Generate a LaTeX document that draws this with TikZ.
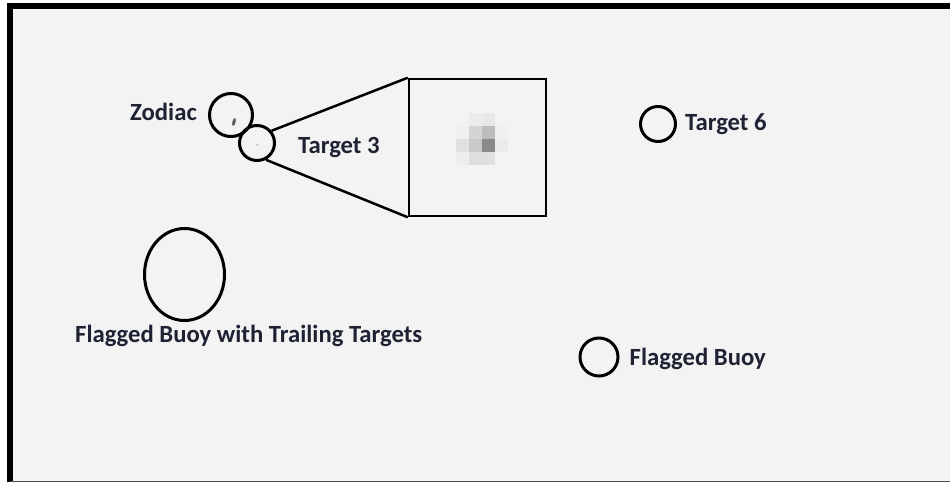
\documentclass[tikz,border=0pt]{standalone}
\usepackage{fontspec}
\setmainfont{Carlito}
\usepackage{xcolor}
\usetikzlibrary{shapes.geometric,positioning,calc}
\definecolor{labelnavy}{RGB}{30, 34, 50}
\definecolor{seagray}{RGB}{243, 243, 243}

\tikzset{
    marker/.style={draw=black, line width=3pt, circle, inner sep=0pt},
    tag/.style={text=labelnavy, font=\fontsize{24.7}{29}\selectfont\bfseries, inner sep=0pt},
}

\begin{document}
\begin{tikzpicture}[x=1pt, y=-1pt]
    \useasboundingbox (0,0) rectangle (950,486);

    % Frame of the sea image
    \fill[white] (0,0) rectangle (950,486);
    \fill[seagray] (10,6) rectangle (950,482);
    \draw[line width=6pt] (950,6) -- (10,6) -- (10,482);
    \draw[line width=1.5pt, color=black!70] (10,481.5) -- (950,481.5);

    % Zodiac and Target 3
    \node[marker, minimum size=43pt] (zodiac) at (231,115) {};
    \fill[black!65, rotate around={-15:(234,122)}] (234,122) ellipse (1.6pt and 4pt);
    \node[tag, left=11pt of zodiac, yshift=3pt] (zodiaclbl) {Zodiac};
    \node[marker, minimum size=35pt] (tgt3) at (257,143) {};
    \fill[black!30] (257,145) circle (1pt);
    \node[tag, right=22pt of tgt3, yshift=-4pt] (tgt3lbl) {Target 3};

    % Zoomed window on Target 3
    \node[draw, line width=2.5pt, minimum width=137pt, minimum height=137pt, inner sep=0pt] (zoombox) at (477.5,147.5) {};
    \foreach \c/\r/\g in {1/0/8, 2/0/9, 0/1/6, 1/1/17, 2/1/26, 3/1/6,
                          0/2/12, 1/2/21, 2/2/46, 3/2/8, 0/3/7, 1/3/13, 2/3/12}
        \fill[black!\g] ($(456,113)+(13*\c,13*\r)$) rectangle ++(13,13);
    \draw[line width=2.5pt] (tgt3.40) -- (zoombox.north west);
    \draw[line width=2.5pt] (tgt3.-62) -- (zoombox.south west);

    % Target 6
    \node[marker, minimum size=35pt] (tgt6) at (658,124) {};
    \node[tag, right=8pt of tgt6] (tgt6lbl) {Target 6};

    % Flagged buoy with trailing targets
    \node[draw=black, line width=3pt, ellipse, minimum width=80pt, minimum height=92pt, inner sep=0pt] (trail) at (184.5,274.5) {};
    \node[tag, anchor=west] (traillbl) at (75,336) {Flagged Buoy with Trailing Targets};

    % Flagged buoy
    \node[marker, minimum size=38pt] (buoy) at (599,357) {};
    \node[tag, right=10pt of buoy, yshift=-2pt] (buoylbl) {Flagged Buoy};
\end{tikzpicture}
\end{document}
